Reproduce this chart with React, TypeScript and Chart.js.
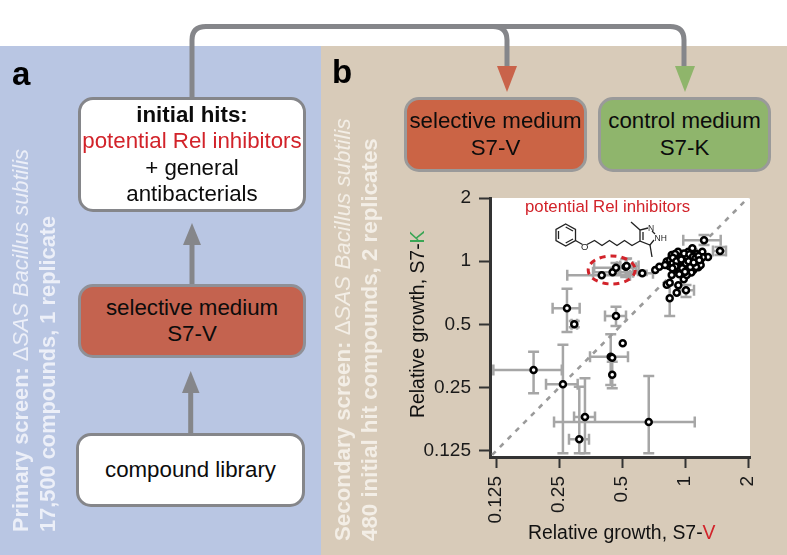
import React, { useEffect, useRef } from "react";
import { Chart, registerables } from "chart.js";

Chart.register(...registerables);

// ---- data (relative growth) ----
const axisTicks = [0.125, 0.25, 0.5, 1, 2];
const xBounds = [0.117, 2.0443];
const yBounds = [0.117, 2];
const diagonal = [0.11, 2.06];

const barredX = [0.189, 0.261, 0.3326, 0.3125, 0.671, 0.4416, 0.449, 0.468, 0.2957, 0.2729, 0.845, 1.011, 0.4, 0.451, 0.468, 0.5207, 0.526, 0.625, 1.233, 1.47];
const barredY = [0.304, 0.2595, 0.1815, 0.142, 0.1718, 0.351, 0.2885, 0.549, 0.501, 0.597, 0.666, 0.7275, 0.857, 0.886, 0.932, 0.942, 0.949, 0.877, 1.258, 1.119];
const xLow = [0.1214, 0.2167, 0.295, 0.279, 0.2367, 0.3516, null, 0.4147, 0.287, 0.233, null, 0.947, 0.2737, 0.3635, 0.368, 0.473, 0.49, 0.528, 0.981, 1.36];
const xHigh = [0.2578, 0.307, 0.3715, 0.3477, 1.113, 0.534, null, 0.5225, 0.305, 0.3138, null, 1.104, 0.546, 0.5645, 0.583, 0.5645, 0.6, 0.703, 1.481, 1.57];
const yLow = [0.235, 0.122, 0.122, 0.122, 0.122, 0.2577, 0.2486, 0.4917, 0.485, 0.4607, 0.549, 0.676, null, null, 0.88, 0.841, 0.86, 0.86, 1.195, 1.07];
const yHigh = [0.371, 0.4, 0.277, 0.253, 0.284, 0.449, 0.3327, 0.6075, 0.52, 0.74, 0.771, 0.771, null, null, 0.98, 1.025, 1.03, 0.9, 1.333, 1.17];

const looseX = [0.449, 0.504, 0.9127, 0.818, 0.845, 0.929, 0.721, 0.754, 1.288];
const looseY = [0.3476, 0.407, 0.7085, 0.773, 0.79, 0.768, 0.909, 0.942, 1.047];

const clusterX = [0.864, 0.926, 0.981, 1.037, 1.084, 1.137, 1.21, 1.215, 1.179, 1.158, 1.096, 1.072, 1.019, 0.981, 0.939, 0.886, 0.864, 0.839, 0.818, 0.803, 0.848, 0.896, 0.946, 1.0, 1.056, 1.104, 1.037, 0.981, 0.913, 0.873, 1.096, 1.137, 0.986, 0.939, 1.019, 1.188, 1.076, 0.929, 1.026, 0.896, 0.875, 0.91, 0.955, 0.99, 1.01, 1.05, 1.09, 1.12, 1.16, 0.93, 0.97, 1.06, 1.13, 0.9, 0.96, 1.04, 1.1, 1.0, 0.87, 1.17];
const clusterY = [1.071, 1.111, 1.071, 1.111, 1.152, 1.083, 1.111, 1.044, 0.996, 0.936, 0.909, 0.883, 0.926, 0.892, 0.909, 0.916, 0.86, 0.949, 0.996, 0.96, 1.014, 1.032, 0.996, 1.014, 1.051, 1.014, 0.978, 0.949, 0.96, 0.978, 0.96, 0.978, 0.82, 0.867, 0.86, 0.96, 1.083, 1.044, 1.044, 1.083, 1.04, 1.0, 1.045, 1.09, 0.975, 1.08, 1.05, 1.03, 1.06, 0.93, 0.925, 0.94, 0.94, 0.945, 1.02, 1.0, 0.985, 0.89, 0.925, 1.01];

const FONT = '"Liberation Sans", Arial, sans-serif';
const BLUE = "#b9c6e3";
const BEIGE = "#d8cbb9";
const ARROW = "#85868a";
const RED = "#d2232a";

const toPoints = (xs: number[], ys: number[]) => xs.map((x, i) => ({ x, y: ys[i] }));

const errorBars = {
  id: "errorBars",
  beforeDraw(chart: any) {
    const { ctx, chartArea: a } = chart;
    ctx.save();
    ctx.fillStyle = "#fff";
    ctx.fillRect(a.left, a.top, a.right - a.left, a.bottom - a.top);
    ctx.restore();
  },
  beforeDatasetsDraw(chart: any) {
    const { ctx, scales } = chart;
    const cap = 5.5;
    ctx.save();
    ctx.strokeStyle = "#a6a6a6";
    ctx.lineWidth = 2.5;
    barredX.forEach((x, i) => {
      const px = scales.x.getPixelForValue(x);
      const py = scales.y.getPixelForValue(barredY[i]);
      ctx.beginPath();
      const lo = xLow[i];
      const hi = xHigh[i];
      if (lo !== null && hi !== null) {
        const l = scales.x.getPixelForValue(lo);
        const r = scales.x.getPixelForValue(hi);
        ctx.moveTo(l, py); ctx.lineTo(r, py);
        ctx.moveTo(l, py - cap); ctx.lineTo(l, py + cap);
        ctx.moveTo(r, py - cap); ctx.lineTo(r, py + cap);
      }
      const yl = yLow[i];
      const yh = yHigh[i];
      if (yl !== null && yh !== null) {
        const b = scales.y.getPixelForValue(yl);
        const t = scales.y.getPixelForValue(yh);
        ctx.moveTo(px, b); ctx.lineTo(px, t);
        ctx.moveTo(px - cap, b); ctx.lineTo(px + cap, b);
        ctx.moveTo(px - cap, t); ctx.lineTo(px + cap, t);
      }
      ctx.stroke();
    });
    ctx.restore();
  },
};

function Box(props: { l: number; t: number; w: number; h: number; bg: string; border: string; children: React.ReactNode; fs?: number; lh?: number }) {
  const { l, t, w, h, bg, border, children, fs = 22.3, lh = 26.5 } = props;
  return (
    <div
      style={{
        position: "absolute", left: l, top: t, width: w, height: h, boxSizing: "border-box",
        background: bg, border: `3.5px solid ${border}`, borderRadius: 15, display: "flex",
        flexDirection: "column", alignItems: "center", justifyContent: "center",
        fontSize: fs, lineHeight: `${lh}px`, color: "#0c0c0c", textAlign: "center", whiteSpace: "nowrap",
      }}
    >
      {children}
    </div>
  );
}

function Side(props: { x: number; y: number; color: string; fs: number; children: React.ReactNode }) {
  return (
    <div
      style={{
        position: "absolute", left: props.x, top: props.y, transform: "rotate(-90deg)", transformOrigin: "0 0",
        whiteSpace: "nowrap", fontSize: props.fs, lineHeight: "22px", color: props.color,
      }}
    >
      {props.children}
    </div>
  );
}

export default function App() {
  const ref = useRef<HTMLCanvasElement | null>(null);

  useEffect(() => {
    if (!ref.current) return;
    const axisBase = (size: number) => ({
      type: "logarithmic" as const,
      bounds: "data" as const,
      grid: { drawOnChartArea: false, drawTicks: true, tickLength: 11, tickColor: "#333", tickWidth: 2 },
      border: { display: true, color: "#333", width: 3 },
      afterBuildTicks: (s: any) => { s.ticks = axisTicks.map((value) => ({ value })); },
      afterFit: (s: any) => {
        if (s.axis === "x") s.height = size; else s.width = size;
        s.paddingLeft = s.paddingRight = s.paddingTop = s.paddingBottom = 0;
      },
    });
    const chart = new Chart(ref.current, {
      type: "scatter",
      data: {
        datasets: [
          {
            label: "compounds",
            data: [...toPoints(barredX, barredY), ...toPoints(looseX, looseY), ...toPoints(clusterX, clusterY)],
            pointRadius: 3,
            pointBorderWidth: 2.5,
            pointBorderColor: "#000",
            pointBackgroundColor: "#fff",
          },
          {
            label: "equal growth",
            data: toPoints(diagonal, diagonal),
            showLine: true,
            pointRadius: 0,
            borderColor: "#9a9a9a",
            borderWidth: 2.6,
            borderDash: [5, 6],
          },
        ],
      } as any,
      options: {
        animation: false,
        responsive: false,
        events: [],
        layout: { padding: { left: 410, right: 37, top: 198, bottom: 18 } },
        plugins: { legend: { display: false }, tooltip: { enabled: false } },
        scales: {
          x: {
            ...axisBase(80),
            min: xBounds[0],
            max: xBounds[1],
            ticks: {
              autoSkip: false, minRotation: 90, maxRotation: 90, padding: 8, color: "#1a1a1a",
              font: { family: FONT, size: 19 },
              callback: (v: any) => String(v),
            },
          },
          y: {
            ...axisBase(80),
            min: yBounds[0],
            max: yBounds[1],
            ticks: {
              autoSkip: false, padding: 8, color: "#1a1a1a",
              font: { family: FONT, size: 19 },
              callback: (v: any) => String(v),
            },
          },
        },
      } as any,
      plugins: [errorBars],
    });
    return () => chart.destroy();
  }, []);

  return (
    <div style={{ position: "absolute", left: 0, top: 0, width: 787, height: 555, overflow: "hidden", background: "#fff", fontFamily: FONT }}>
      <div style={{ position: "absolute", left: 0, top: 46, width: 321, height: 509, background: BLUE }} />
      <div style={{ position: "absolute", left: 321, top: 46, width: 466, height: 509, background: BEIGE }} />

      <svg width={787} height={555} style={{ position: "absolute", left: 0, top: 0 }}>
        <g fill="none" stroke={ARROW} strokeWidth={5}>
          <path d="M192 100 V40 Q192 26.5 206 26.5 H493 Q507 26.5 507 40 V68" />
          <path d="M400 26.5 H670 Q684 26.5 684 40 V68" />
          <path d="M192 285 V243" />
          <path d="M190.7 435 V391" />
        </g>
        <polygon points="497,66 517,66 507,92" fill="#c9634a" />
        <polygon points="675,66 695,66 685,92" fill="#8fb56b" />
        <polygon points="183,245 201,245 192,223" fill={ARROW} />
        <polygon points="182,393 199.5,393 190.7,371" fill={ARROW} />
      </svg>

      <canvas ref={ref} width={787} height={555} style={{ position: "absolute", left: 0, top: 0 }} />

      <svg width={787} height={555} style={{ position: "absolute", left: 0, top: 0 }}>
        <ellipse cx={611.7} cy={270} rx={23.5} ry={14} fill="none" stroke={RED} strokeWidth={3} strokeDasharray="6 5" />
        <g fill="none" stroke="#222" strokeWidth={1.3}>
          <polygon points="565.7,224 575.5,229.5 575.5,240.5 565.7,246 556,240.5 556,229.5" />
          <polyline points="558.5,231 558.5,239" />
          <polyline points="565.7,227 573,231" />
          <polyline points="573,239 565.7,243" />
          <polyline points="575.5,240.5 582.5,244.5" />
          <polyline points="587,244.5 594.5,240.5 602,245.5 609.5,240.5 617,245.5 624.5,240.5 632,245.5 640,241" />
          <polyline points="648,228 640,230 640,241 650,245 654,240" />
          <polyline points="643,232 643,240" />
          <polyline points="640,230 631,222" />
          <polyline points="650,245 652,257" />
          <polyline points="652,231 655,234" />
        </g>
        <text x={581} y={249.5} fontSize={9.5} fill="#222" fontFamily={FONT}>O</text>
        <text x={648} y={230.5} fontSize={8.5} fill="#222" fontFamily={FONT}>N</text>
        <text x={654.5} y={240.5} fontSize={8.5} fill="#222" fontFamily={FONT}>NH</text>
      </svg>

      <div style={{ position: "absolute", left: 525, top: 198, fontSize: 16.8, lineHeight: "18px", color: RED, whiteSpace: "nowrap" }}>potential Rel inhibitors</div>

      <div style={{ position: "absolute", left: 12, top: 55, fontSize: 33, fontWeight: 700, color: "#000" }}>a</div>
      <div style={{ position: "absolute", left: 332, top: 53, fontSize: 33, fontWeight: 700, color: "#000" }}>b</div>

      <Box l={78} t={97} w={228} h={115} bg="#fff" border="#85868a">
        <span style={{ fontWeight: 700 }}>initial hits:</span>
        <span style={{ color: RED }}>potential Rel inhibitors</span>
        <span>+ general</span>
        <span>antibacterials</span>
      </Box>
      <Box l={78} t={284} w={228} h={74} bg="#c4634f" border="#8f9097">
        <span>selective medium</span>
        <span>S7-V</span>
      </Box>
      <Box l={76} t={433} w={229} h={74} bg="#fff" border="#85868a">
        <span>compound library</span>
      </Box>
      <Box l={404} t={97} w={183} h={75} bg="#cb6445" border="#9a9a9a">
        <span>selective medium</span>
        <span>S7-V</span>
      </Box>
      <Box l={598} t={97} w={173} h={75} bg="#8fb56c" border="#9a9a9a">
        <span>control medium</span>
        <span>S7-K</span>
      </Box>

      <Side x={10} y={532} fs={21.8} color="#eceff8">
        <b>Primary screen:</b> Δ<i>SAS Bacillus subtilis</i>
      </Side>
      <Side x={37} y={532} fs={21.8} color="#eceff8">
        <b>17,500 compounds, 1 replicate</b>
      </Side>
      <Side x={332} y={541} fs={22.3} color="#f3eee6">
        <b>Secondary screen:</b> Δ<i>SAS Bacillus subtilis</i>
      </Side>
      <Side x={359} y={541} fs={22.3} color="#f3eee6">
        <b>480 initial hit compounds, 2 replicates</b>
      </Side>

      <div style={{ position: "absolute", left: 528, top: 521, fontSize: 19.4, lineHeight: "22px", color: "#111", whiteSpace: "nowrap" }}>
        Relative growth, S7-<span style={{ color: RED }}>V</span>
      </div>
      <div style={{ position: "absolute", left: 406, top: 418, fontSize: 19.4, lineHeight: "22px", color: "#111", whiteSpace: "nowrap", transform: "rotate(-90deg)", transformOrigin: "0 0" }}>
        Relative growth, S7-<span style={{ color: "#3aa655" }}>K</span>
      </div>
    </div>
  );
}
